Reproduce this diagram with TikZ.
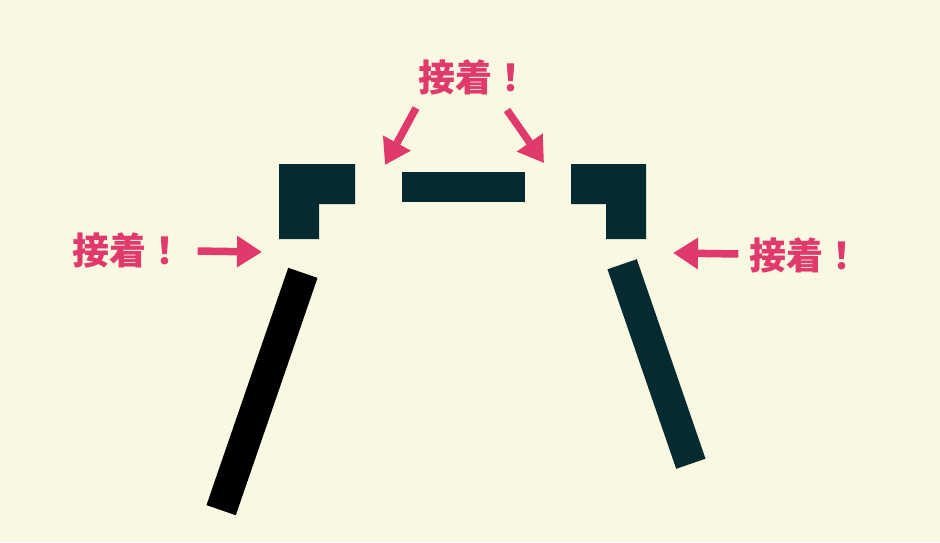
\documentclass[tikz,border=0pt]{standalone}
\usepackage{fontspec}
\newfontfamily\jpfont{Noto Sans CJK JP}
\usetikzlibrary{arrows.meta}
\definecolor{paper}{HTML}{F9F8E3}
\definecolor{glue}{HTML}{E03A6C}
\definecolor{board}{HTML}{052A30}

\begin{document}
\begin{tikzpicture}[x=1pt,y=-1pt,
  part/.style={fill=board},
  leg/.style={rectangle,inner sep=0pt,minimum width=31pt},
  note/.style={text=glue,font=\jpfont\bfseries\fontsize{37}{40}\selectfont,inner sep=0pt},
  glue arrow/.style={draw=glue,line width=7.5pt,-{Triangle[length=25pt,width=30pt]}}]
\fill [paper] (0,0) rectangle (940,542);

% pieces
\fill [part] (279,164) -- (355,164) -- (355,204) -- (319,204) -- (319,239) -- (279,239) -- cycle;
\fill [part] (571,164) -- (646,164) -- (646,239) -- (606,239) -- (606,204) -- (571,204) -- cycle;
\node [rectangle,fill=board,inner sep=0pt,minimum width=123pt,minimum height=30pt] (bar) at (463.5,187) {};
\node [leg,fill=black,minimum height=251pt,rotate=-19] (legL) at (262,391.5) {};
\node [leg,fill=board,minimum height=211pt,rotate=19] (legR) at (656.5,364) {};

% labels
\node [note] (noteT) at (474,77) {接着！};
\node [note] (noteL) at (128,250) {接着！};
\node [note] (noteR) at (805,255) {接着！};

\coordinate (fromTL) at (416,108);
\coordinate (fromTR) at (507,110);
\coordinate (gapTL) at (385,165);
\coordinate (gapTR) at (544,163);
\coordinate (gapL) at (262,252);
\coordinate (gapR) at (673,253);

\draw [glue arrow] (fromTL) -- (gapTL);
\draw [glue arrow] (fromTR) -- (gapTR);
\draw [glue arrow,shorten <=14pt] (noteL) -- (gapL);
\draw [glue arrow,shorten <=11pt] (noteR) -- (gapR);
\end{tikzpicture}
\end{document}
